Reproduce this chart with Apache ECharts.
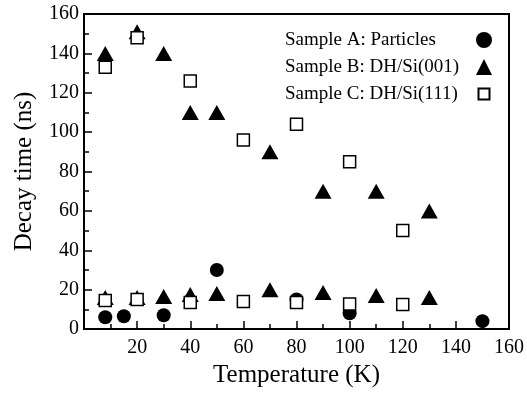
<!DOCTYPE html>
<html><head><meta charset="utf-8">
<script src="https://cdn.jsdelivr.net/npm/echarts@6/dist/echarts.min.js"></script>
<style>html,body{margin:0;padding:0;background:#fff}#c{width:527px;height:393px}</style>
</head><body><div id="c"></div>
<script>
const xTicks = [0, 20, 40, 60, 80, 100, 120, 140, 160];
const yTicks = [0, 20, 40, 60, 80, 100, 120, 140, 160];
const seriesNames = ['Sample A: Particles', 'Sample B: DH/Si(001)', 'Sample C: DH/Si(111)'];
const sampleA = [[8, 6], [15, 6.5], [30, 7], [50, 30], [80, 15], [100, 8], [150, 4]];
const sampleB = [[8, 140], [20, 151], [30, 140], [40, 110], [50, 110], [70, 90], [90, 70], [110, 70], [130, 60],
                 [8, 16], [20, 16], [30, 16.5], [40, 17.5], [50, 18], [70, 20], [90, 18.5], [110, 17], [130, 16]];
const sampleC = [[8, 133], [20, 148], [40, 126], [60, 96], [80, 104], [100, 85], [120, 50],
                 [8, 14.5], [20, 15], [40, 13.5], [60, 14], [80, 13.5], [100, 12.7], [120, 12.5]];

const font = 'Liberation Serif';
const chart = echarts.init(document.getElementById('c'));
const axisCommon = {
  axisLine: {show: true, onZero: false, lineStyle: {color: '#000', width: 2}},
  axisTick: {show: true, inside: true, length: 8, lineStyle: {color: '#000', width: 1.5}},
  minorTick: {show: true, splitNumber: 2, length: 5, lineStyle: {color: '#000', width: 1.5}},
  splitLine: {show: false},
  axisLabel: {color: '#000', fontFamily: font, fontSize: 20},
  nameTextStyle: {color: '#000', fontFamily: font, fontSize: 25}
};
chart.setOption({
  animation: false,
  grid: {left: 84, right: 18, top: 14, bottom: 60, show: true, borderColor: '#000', borderWidth: 2},
  xAxis: Object.assign({}, axisCommon, {
    type: 'value', min: xTicks[0], max: xTicks[xTicks.length - 1], interval: 20,
    name: 'Temperature (K)', nameLocation: 'middle', nameGap: 34,
    axisLabel: Object.assign({}, axisCommon.axisLabel, {margin: 9, formatter: v => v === 0 ? '' : v})
  }),
  yAxis: Object.assign({}, axisCommon, {
    type: 'value', min: yTicks[0], max: yTicks[yTicks.length - 1], interval: 20,
    name: 'Decay time (ns)', nameLocation: 'middle', nameGap: 47,
    axisLabel: Object.assign({}, axisCommon.axisLabel, {margin: 5})
  }),
  legend: {
    orient: 'vertical', align: 'right', left: 285, top: 30, padding: 0, itemGap: 7,
    itemWidth: 16, itemHeight: 16,
    formatter: n => '{t|' + n + '}',
    textStyle: {color: '#000', fontFamily: font, fontSize: 19, lineHeight: 20,
      rich: {t: {width: 186, align: 'left', fontFamily: font, fontSize: 19, color: '#000', lineHeight: 20}}},
    data: [
      {name: seriesNames[0]},
      {name: seriesNames[1]},
      {name: seriesNames[2], icon: 'path://M0,0M16,16M2.5,2.5L13.5,2.5L13.5,13.5L2.5,13.5Z'}
    ]
  },
  series: [
    {name: seriesNames[0], type: 'scatter', data: sampleA, symbol: 'circle', symbolSize: 14, itemStyle: {color: '#000', opacity: 1}, z: 2},
    {name: seriesNames[1], type: 'scatter', data: sampleB, symbol: 'triangle', symbolSize: [17, 15], itemStyle: {color: '#000', opacity: 1}, z: 3},
    {name: seriesNames[2], type: 'scatter', data: sampleC, symbol: 'rect', symbolSize: 12, itemStyle: {color: '#fff', borderColor: '#000', borderWidth: 1.5, opacity: 1}, z: 4}
  ]
});
</script></body></html>
